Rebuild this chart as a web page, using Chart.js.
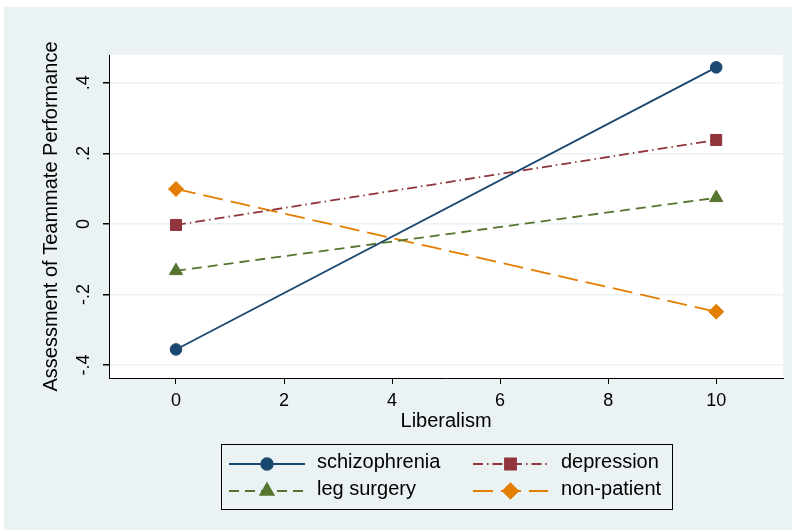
<!DOCTYPE html>
<html>
<head>
<meta charset="utf-8">
<script src="https://cdn.jsdelivr.net/npm/chart.js@4.4.1/dist/chart.umd.min.js"></script>
<style>
  html, body { margin: 0; padding: 0; background: #fff; }
  #wrap { position: absolute; left: 4px; top: 7px; width: 788px; height: 523px; background: #eaf2f3; }
</style>
</head>
<body>
<div id="wrap"><canvas id="chart" width="788" height="523"></canvas></div>
<script>
// valores
const liberalism = [0, 10];
const schizophrenia = [-0.356, 0.444];
const depression = [-0.003, 0.238];
const legSurgery = [-0.133, 0.074];
const nonPatient = [0.099, -0.249];
const seriesNames = ["schizophrenia", "depression", "leg surgery", "non-patient"];
const xTicks = [0, 2, 4, 6, 8, 10];
const yTicks = [-0.4, -0.2, 0, 0.2, 0.4];

const FONT = "'Liberation Sans', Arial, sans-serif";

function fmtY(v) {
  if (Math.abs(v) < 1e-9) return "0";
  return (v < 0 ? "-" : "") + Math.abs(v).toFixed(1).replace(/^0/, "");
}

function pts(ys) {
  return liberalism.map((x, i) => ({ x: x, y: ys[i] }));
}

const series = [
  { label: seriesNames[0], data: pts(schizophrenia), color: "#1a476f", dash: [], style: "circle", r: 5.8 },
  { label: seriesNames[1], data: pts(depression), color: "#90353b", dash: [10, 4, 1.5, 4], style: "rect", r: 7.8 },
  { label: seriesNames[2], data: pts(legSurgery), color: "#55752f", dash: [10, 6], style: "triangle", r: 7.6 },
  { label: seriesNames[3], data: pts(nonPatient), color: "#e37e00", dash: [20, 8], style: "rectRot", r: 7.5 },
];

// plugin: fondo blanco, etiquetas Y giradas y leyenda estilo Stata
const stataPlugin = {
  id: "stata",
  beforeDraw(chart) {
    const { ctx, chartArea: a } = chart;
    ctx.save();
    ctx.fillStyle = "#ffffff";
    ctx.fillRect(a.left, a.top, a.right - a.left, a.bottom - a.top);
    ctx.restore();
  },
  afterDraw(chart) {
    const ctx = chart.ctx;
    const yScale = chart.scales.y;

    // etiquetas del eje Y, giradas
    ctx.save();
    ctx.fillStyle = "#000";
    ctx.font = "18px " + FONT;
    ctx.textAlign = "center";
    ctx.textBaseline = "alphabetic";
    yTicks.forEach(v => {
      const py = yScale.getPixelForValue(v);
      ctx.save();
      ctx.translate(85, py);
      ctx.rotate(-Math.PI / 2);
      ctx.fillText(fmtY(v), 0, 0);
      ctx.restore();
    });
    ctx.restore();

    // leyenda
    const bx = 217, by = 437, bw = 451, bh = 65;
    ctx.save();
    ctx.strokeStyle = "#000";
    ctx.lineWidth = 1;
    ctx.strokeRect(bx + 0.5, by + 0.5, bw, bh);
    const cols = [{ x0: 225, x1: 301, tx: 313 }, { x0: 469, x1: 544, tx: 557 }];
    const rows = [457, 484];
    chart.data.datasets.forEach((ds, i) => {
      const c = cols[i % 2];
      const y = rows[Math.floor(i / 2)];
      ctx.save();
      ctx.strokeStyle = ds.borderColor;
      ctx.lineWidth = ds.borderWidth;
      ctx.setLineDash(ds.borderDash);
      ctx.beginPath();
      ctx.moveTo(c.x0, y);
      ctx.lineTo(c.x1, y);
      ctx.stroke();
      ctx.setLineDash([]);
      ctx.fillStyle = ds.pointBackgroundColor;
      ctx.strokeStyle = ds.pointBorderColor;
      Chart.helpers.drawPoint(ctx, {
        pointStyle: ds.pointStyle, radius: ds.pointRadius, rotation: 0, borderWidth: 1
      }, (c.x0 + c.x1) / 2, y);
      ctx.restore();
      ctx.fillStyle = "#000";
      ctx.font = "20px " + FONT;
      ctx.textAlign = "left";
      ctx.textBaseline = "middle";
      ctx.fillText(ds.label, c.tx, y - 1.5);
    });
    ctx.restore();
  }
};

new Chart(document.getElementById("chart"), {
  type: "line",
  data: {
    datasets: series.map(s => ({
      label: s.label,
      data: s.data,
      borderColor: s.color,
      backgroundColor: s.color,
      borderWidth: 1.8,
      borderDash: s.dash,
      pointStyle: s.style,
      pointRadius: s.r,
      pointHoverRadius: s.r,
      pointBackgroundColor: s.color,
      pointBorderColor: s.color,
      pointBorderWidth: 1,
      tension: 0,
      fill: false,
    })),
  },
  options: {
    responsive: false,
    animation: false,
    layout: { padding: { top: 48, left: 0, right: 8, bottom: 0 } },
    plugins: { legend: { display: false }, tooltip: { enabled: false } },
    scales: {
      x: {
        type: "linear",
        min: -1.24,
        max: 11.24,
        afterBuildTicks: scale => { scale.ticks = xTicks.map(v => ({ value: v })); },
        afterFit: scale => { scale.height = 152; },
        grid: { drawOnChartArea: false, drawTicks: true, tickLength: 6, tickColor: "#000" },
        border: { display: true, color: "#000", width: 1 },
        ticks: { color: "#000", font: { family: FONT, size: 18 }, padding: 6, maxRotation: 0 },
        title: {
          display: true, text: "Liberalism", color: "#000",
          font: { family: FONT, size: 20 }, padding: { top: 0, bottom: 97 }
        },
      },
      y: {
        type: "linear",
        min: -0.437,
        max: 0.479,
        afterBuildTicks: scale => { scale.ticks = yTicks.map(v => ({ value: v })); },
        afterFit: scale => { scale.width = 105; },
        grid: { color: "#eaf2f3", lineWidth: 1.5, drawTicks: true, tickLength: 6, tickColor: "#000" },
        border: { display: true, color: "#000", width: 1 },
        ticks: { display: false },
        title: {
          display: true, text: "Assessment of Teammate Performance", color: "#000",
          font: { family: FONT, size: 20 }, padding: { top: 35, bottom: 0 }
        },
      },
    },
  },
  plugins: [stataPlugin],
});
</script>
</body>
</html>
